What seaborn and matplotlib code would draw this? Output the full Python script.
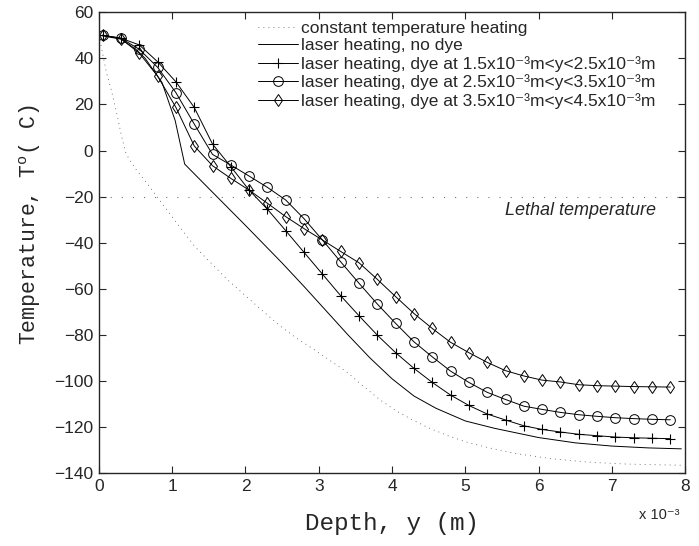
import numpy as np
import pandas as pd
import matplotlib
matplotlib.use("Agg")
import matplotlib.pyplot as plt
import seaborn as sns

# depth in units of 1e-3 m, temperature in C
depth_markers = [0.05, 0.3, 0.55, 0.8, 1.05, 1.3, 1.55, 1.8, 2.05, 2.3, 2.55, 2.8,
                 3.05, 3.3, 3.55, 3.8, 4.05, 4.3, 4.55, 4.8, 5.05, 5.3, 5.55, 5.8,
                 6.05, 6.3, 6.55, 6.8, 7.05, 7.3, 7.55, 7.8]
temp_dye_15 = [50, 48.7, 45.8, 38.5, 29.8, 18.7, 2.8, -7, -17.2, -25.5, -34.8, -44.2,
               -53.6, -63, -71.7, -80.1, -87.7, -94.5, -100.6, -106.1, -110.6, -114.3, -116.9, -119.4,
               -121, -122.1, -123.1, -123.7, -124.3, -124.6, -124.8, -125.0]
temp_dye_25 = [50, 48.7, 43.9, 36.1, 25.1, 11.5, -1.7, -6.3, -11.1, -16, -21.5, -29.6,
               -38.8, -48.3, -57.6, -66.6, -75, -83, -89.5, -95.7, -100.6, -104.9, -108, -110.9,
               -112.3, -113.6, -114.6, -115.3, -115.9, -116.3, -116.6, -116.8]
temp_dye_35 = [50, 48.5, 42.2, 32.3, 18.7, 2.0, -6.6, -12.1, -17.2, -22.9, -28.7, -33.9,
               -38.8, -43.8, -48.7, -55.9, -63.4, -70.7, -77.2, -83.2, -87.7, -91.9, -95.5, -97.8,
               -99.6, -100.4, -101.6, -102, -102.2, -102.4, -102.5, -102.6]

depth_nodye = [0, 0.3, 0.5, 0.63, 0.86, 1.04, 1.17, 1.5, 2.0, 2.5, 2.8, 3.1, 3.4, 3.7,
               4.0, 4.3, 4.6, 5.0, 5.4, 6.0, 6.5, 7.0, 7.5, 7.95]
temp_nodye = [50, 48.3, 44, 40, 29.5, 13, -5.9, -16.5, -32.5, -48.8, -59, -69.5, -80, -90,
              -99, -106.5, -111.8, -117.3, -120.5, -124.5, -126.8, -128.2, -129, -129.4]

depth_const = [0, 0.05, 0.1, 0.17, 0.25, 0.31, 0.37, 0.5, 0.7, 0.86, 1.1, 1.31, 1.55, 1.76,
               2.0, 2.22, 2.47, 2.7, 2.92, 3.15, 3.38, 3.6, 3.83, 4.05, 4.29, 4.5, 4.74,
               5.0, 5.3, 5.7, 6.2, 6.7, 7.2, 7.6, 7.95]
temp_const = [50, 42, 34, 26, 15, 6, -1.5, -8, -16, -22.9, -33, -41.7, -49.5, -56.2,
              -63, -69.2, -76, -81.5, -86, -91, -96, -102, -108, -112.8, -117, -120.3, -123.4,
              -126.3, -128.8, -131.5, -133.8, -135.2, -136, -136.3, -136.5]

lethal_temp = -20

labels = [
    "constant temperature heating",
    "laser heating, no dye",
    "laser heating, dye at 1.5x10\u207b\u00b3m<y<2.5x10\u207b\u00b3m",
    "laser heating, dye at 2.5x10\u207b\u00b3m<y<3.5x10\u207b\u00b3m",
    "laser heating, dye at 3.5x10\u207b\u00b3m<y<4.5x10\u207b\u00b3m",
]

sns.set_style("ticks")
plt.rcParams["font.family"] = ["Liberation Sans", "DejaVu Sans"]
plt.rcParams["mathtext.fontset"] = "custom"
plt.rcParams["mathtext.rm"] = "Liberation Sans"

fig = plt.figure(figsize=(6.99, 5.46), dpi=100)
ax = fig.add_axes([0.1416, 0.1332, 0.8384, 0.8445])

df_markers = pd.DataFrame({"depth": depth_markers, "d15": temp_dye_15,
                           "d25": temp_dye_25, "d35": temp_dye_35})

# lethal temperature line
ax.axhline(lethal_temp, color="0.45", lw=0.8, ls=(0, (1, 9)))

sns.lineplot(x=depth_const, y=temp_const, ax=ax, color="0.3", lw=0.6,
             ls=(0, (1, 5)), label=labels[0], sort=False)
sns.lineplot(x=depth_nodye, y=temp_nodye, ax=ax, color="k", lw=0.7,
             label=labels[1], sort=False)
sns.lineplot(data=df_markers, x="depth", y="d15", ax=ax, color="k", lw=0.7,
             marker="+", markersize=7.5, markeredgecolor="k",
             markeredgewidth=0.8, label=labels[2])
sns.lineplot(data=df_markers, x="depth", y="d25", ax=ax, color="k", lw=0.7,
             marker="o", markersize=7, markerfacecolor="none", markeredgecolor="k",
             markeredgewidth=0.7, label=labels[3])
sns.lineplot(data=df_markers, x="depth", y="d35", ax=ax, color="k", lw=0.7,
             marker="d", markersize=6.5, markerfacecolor="none", markeredgecolor="k",
             markeredgewidth=0.7, label=labels[4])

ax.text(7.6, -26.2, "Lethal temperature", style="italic", fontsize=13,
        ha="right", va="center")

ax.set_xlim(0, 8)
ax.set_ylim(-140, 60)
ax.set_xticks(range(0, 9))
ax.set_yticks(range(-140, 61, 20))
ax.tick_params(direction="in", length=5, width=0.8, labelsize=12.5,
               top=True, right=True, pad=4)
for s in ax.spines.values():
    s.set_linewidth(1.0)

ax.set_xlabel("Depth, y (m)", family="Liberation Mono", fontsize=17.5, labelpad=13)
ax.set_ylabel(r"Temperature, T$^{\mathregular{o}}$( C)", family="Liberation Mono",
              fontsize=15.5)
ax.yaxis.set_label_coords(-0.095, 0.54)
ax.text(0.99, -0.09, "x 10\u207b\u00b3", transform=ax.transAxes,
        fontsize=10.5, ha="right", va="center")

ax.legend(loc="upper left", bbox_to_anchor=(0.271, 0.982), frameon=False,
          fontsize=12.5, borderpad=0, borderaxespad=0, handletextpad=0.2,
          handlelength=2.3, labelspacing=0.15, numpoints=1)

fig.savefig("out.png", dpi=100)
